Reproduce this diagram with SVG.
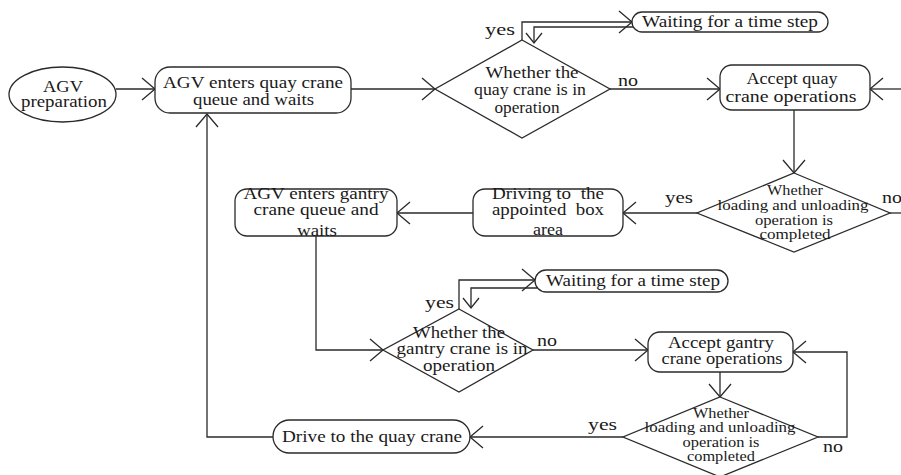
<svg xmlns="http://www.w3.org/2000/svg" width="901" height="475" viewBox="0 0 901 475" font-family="'Liberation Serif', 'Times New Roman', serif">
  <defs>
    <style>
      .shape { fill: #ffffff; stroke: #2a2a2a; stroke-width: 1.3; }
      .wire { fill: none; stroke: #2a2a2a; stroke-width: 1.3; }
      text { font-family: 'Liberation Serif', 'Times New Roman', serif; fill: #1a1a1a; text-anchor: middle; }
      .t { font-size: 16.5px; }
      .s { font-size: 14px; }
      .lbl { font-size: 16.5px; text-anchor: start; }
    </style>
    <marker id="arrow" markerUnits="userSpaceOnUse" markerWidth="30" markerHeight="30" refX="15" refY="15" orient="auto" overflow="visible">
      <path d="M2,4 L15,15 L2,26" fill="none" stroke="#2a2a2a" stroke-width="1.3"/>
    </marker>
    <marker id="arrowSmall" markerUnits="userSpaceOnUse" markerWidth="30" markerHeight="30" refX="15" refY="15" orient="auto" overflow="visible">
      <path d="M5,7 L15,15 L5,23" fill="none" stroke="#2a2a2a" stroke-width="1.3"/>
    </marker>
  </defs>

  <rect width="901" height="475" fill="#ffffff"/>

  <!-- connectors -->
  <g id="connectors">
    <path class="wire" d="M116,89 H155" marker-end="url(#arrow)"/>
    <path class="wire" d="M351,89 H435" marker-end="url(#arrow)"/>
    <path class="wire" d="M522,40 V22 H632" marker-end="url(#arrow)"/>
    <path class="wire" d="M633,27 H534 V43" marker-end="url(#arrowSmall)"/>
    <path class="wire" d="M610,89 H720" marker-end="url(#arrow)"/>
    <path class="wire" d="M901,89 H870" marker-end="url(#arrow)"/>
    <path class="wire" d="M794,110 V173" marker-end="url(#arrow)"/>
    <path class="wire" d="M697,213 H623" marker-end="url(#arrow)"/>
    <path class="wire" d="M890,213 H901"/>
    <path class="wire" d="M473,213 H397" marker-end="url(#arrow)"/>
    <path class="wire" d="M316,236 V350 H383" marker-end="url(#arrow)"/>
    <path class="wire" d="M459,309 V280 H535" marker-end="url(#arrow)"/>
    <path class="wire" d="M537,288 H471 V308" marker-end="url(#arrowSmall)"/>
    <path class="wire" d="M533,350 H648" marker-end="url(#arrow)"/>
    <path class="wire" d="M720,372 V397" marker-end="url(#arrow)"/>
    <path class="wire" d="M818,437 H847 V352 H793" marker-end="url(#arrow)"/>
    <path class="wire" d="M623,437 H470" marker-end="url(#arrow)"/>
    <path class="wire" d="M273,437 H207 V114" marker-end="url(#arrow)"/>
  </g>

  <!-- start -->
  <g id="agv-preparation">
    <ellipse class="shape" cx="62.5" cy="94.5" rx="53.5" ry="27.5"/>
    <text class="t" x="63" y="92" textLength="40" lengthAdjust="spacingAndGlyphs">AGV</text>
    <text class="t" x="64" y="107" textLength="86" lengthAdjust="spacingAndGlyphs">preparation</text>
  </g>

  <g id="quay-queue">
    <rect class="shape" x="155" y="67" width="196" height="46" rx="15"/>
    <text class="t" x="253" y="88" textLength="180" lengthAdjust="spacingAndGlyphs">AGV enters quay crane</text>
    <text class="t" x="253.5" y="105" textLength="121" lengthAdjust="spacingAndGlyphs">queue and waits</text>
  </g>

  <g id="quay-busy">
    <polygon class="shape" points="522,40 610,89 522,138 435,89"/>
    <text class="t" x="532" y="78" textLength="93" lengthAdjust="spacingAndGlyphs">Whether the</text>
    <text class="t" x="530" y="95" textLength="112" lengthAdjust="spacingAndGlyphs">quay crane is in</text>
    <text class="t" x="527" y="113" textLength="65" lengthAdjust="spacingAndGlyphs">operation</text>
    <text class="lbl" x="485" y="35" textLength="30" lengthAdjust="spacingAndGlyphs">yes</text>
    <text class="lbl" x="618" y="86" textLength="20" lengthAdjust="spacingAndGlyphs">no</text>
  </g>

  <g id="quay-wait">
    <rect class="shape" x="632" y="12" width="196" height="20" rx="10"/>
    <text class="t" x="730" y="27" textLength="176" lengthAdjust="spacingAndGlyphs">Waiting for a time step</text>
  </g>

  <g id="quay-ops">
    <rect class="shape" x="720" y="65" width="150" height="45" rx="12"/>
    <text class="t" x="792" y="84" textLength="91" lengthAdjust="spacingAndGlyphs">Accept quay</text>
    <text class="t" x="791" y="102" textLength="131" lengthAdjust="spacingAndGlyphs">crane operations</text>
  </g>

  <g id="quay-done">
    <polygon class="shape" points="794,173 890,213 794,252 697,213"/>
    <text class="s" x="795" y="195" textLength="56" lengthAdjust="spacingAndGlyphs">Whether</text>
    <text class="s" x="793" y="210" textLength="151" lengthAdjust="spacingAndGlyphs">loading and unloading</text>
    <text class="s" x="794" y="224.5" textLength="78" lengthAdjust="spacingAndGlyphs">operation is</text>
    <text class="s" x="795" y="239" textLength="71" lengthAdjust="spacingAndGlyphs">completed</text>
    <text class="lbl" x="665" y="203" textLength="28" lengthAdjust="spacingAndGlyphs">yes</text>
    <text class="lbl" x="882" y="203" textLength="20" lengthAdjust="spacingAndGlyphs">no</text>
  </g>

  <g id="drive-box-area">
    <rect class="shape" x="473" y="189" width="150" height="47" rx="12"/>
    <text class="t" x="548" y="199" textLength="112" lengthAdjust="spacingAndGlyphs" xml:space="preserve">Driving to  the</text>
    <text class="t" x="548" y="215" textLength="112" lengthAdjust="spacingAndGlyphs" xml:space="preserve">appointed  box</text>
    <text class="t" x="548" y="235" textLength="30" lengthAdjust="spacingAndGlyphs">area</text>
  </g>

  <g id="gantry-queue">
    <rect class="shape" x="235" y="189" width="162" height="47" rx="12"/>
    <text class="t" x="316" y="199" textLength="145" lengthAdjust="spacingAndGlyphs">AGV enters gantry</text>
    <text class="t" x="316" y="215" textLength="125" lengthAdjust="spacingAndGlyphs">crane queue and</text>
    <text class="t" x="317" y="236" textLength="40" lengthAdjust="spacingAndGlyphs">waits</text>
  </g>

  <g id="gantry-wait">
    <rect class="shape" x="535" y="270" width="193" height="22" rx="11"/>
    <text class="t" x="633" y="286" textLength="174" lengthAdjust="spacingAndGlyphs">Waiting for a time step</text>
  </g>

  <g id="gantry-busy">
    <polygon class="shape" points="459,309 533,350 459,392 383,350"/>
    <text class="t" x="459" y="338" textLength="92" lengthAdjust="spacingAndGlyphs">Whether the</text>
    <text class="t" x="462" y="354" textLength="131" lengthAdjust="spacingAndGlyphs">gantry crane is in</text>
    <text class="t" x="459" y="371" textLength="72" lengthAdjust="spacingAndGlyphs">operation</text>
    <text class="lbl" x="425" y="308" textLength="29" lengthAdjust="spacingAndGlyphs">yes</text>
    <text class="lbl" x="537" y="346" textLength="20" lengthAdjust="spacingAndGlyphs">no</text>
  </g>

  <g id="gantry-ops">
    <rect class="shape" x="648" y="332" width="145" height="40" rx="12"/>
    <text class="t" x="721" y="348" textLength="106" lengthAdjust="spacingAndGlyphs">Accept gantry</text>
    <text class="t" x="722" y="364" textLength="121" lengthAdjust="spacingAndGlyphs">crane operations</text>
  </g>

  <g id="gantry-done">
    <polygon class="shape" points="720,397 818,437 720,477 623,437"/>
    <text class="s" x="721" y="418" textLength="56" lengthAdjust="spacingAndGlyphs">Whether</text>
    <text class="s" x="720" y="432" textLength="151" lengthAdjust="spacingAndGlyphs">loading and unloading</text>
    <text class="s" x="721" y="447" textLength="77" lengthAdjust="spacingAndGlyphs">operation is</text>
    <text class="s" x="721" y="461" textLength="68" lengthAdjust="spacingAndGlyphs">completed</text>
    <text class="lbl" x="588" y="430" textLength="29" lengthAdjust="spacingAndGlyphs">yes</text>
    <text class="lbl" x="823" y="452" textLength="20" lengthAdjust="spacingAndGlyphs">no</text>
  </g>

  <g id="drive-quay">
    <rect class="shape" x="273" y="420" width="197" height="33" rx="16.5"/>
    <text class="t" x="372" y="442" textLength="180" lengthAdjust="spacingAndGlyphs">Drive to the quay crane</text>
  </g>
</svg>
